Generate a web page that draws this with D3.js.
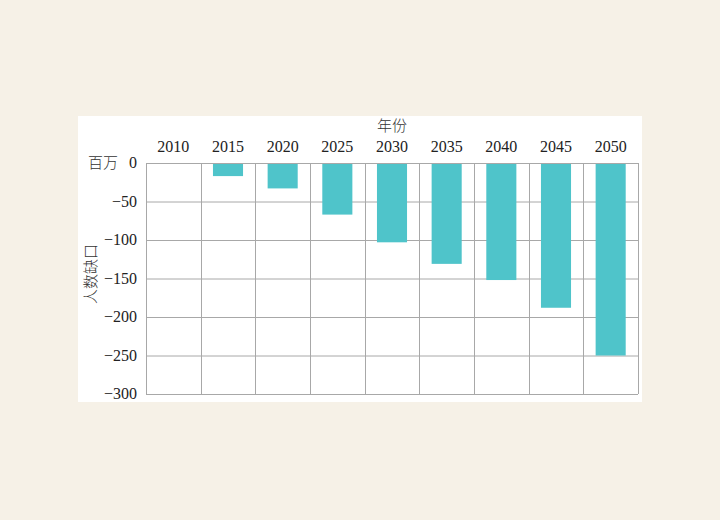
<!DOCTYPE html>
<html>
<head>
<meta charset="utf-8">
<script src="https://cdn.jsdelivr.net/npm/d3@7"></script>
<style>
  body { margin: 0; background: #f6f1e7; }
  svg { display: block; }
</style>
</head>
<body>
<script>
// data (millions)
var years = ["2010", "2015", "2020", "2025", "2030", "2035", "2040", "2045", "2050"];
var gap = [0, -17, -33, -67, -103, -131, -152, -188, -250];
var yTicks = [0, -50, -100, -150, -200, -250, -300];

var W = 720, H = 520;
var margin = {top: 163, right: 82, bottom: 126, left: 146};
var width = W - margin.left - margin.right;
var height = H - margin.top - margin.bottom;

var svg = d3.select("body").append("svg")
    .attr("width", W)
    .attr("height", H);

// white panel
svg.append("rect")
    .attr("x", 78).attr("y", 116)
    .attr("width", 564).attr("height", 286)
    .attr("fill", "#ffffff");

var g = svg.append("g")
    .attr("transform", "translate(" + margin.left + "," + margin.top + ")");

var x = d3.scaleBand().domain(years).range([0, width]).paddingInner(0).paddingOuter(0);
var y = d3.scaleLinear().domain([-300, 0]).range([height, 0]);

var gridColor = "#a8a8a8";

// horizontal grid
g.selectAll(".hgrid")
    .data(yTicks)
    .enter().append("line")
    .attr("class", "hgrid")
    .attr("x1", 0).attr("x2", width)
    .attr("y1", function(d) { return y(d) + 0.5; })
    .attr("y2", function(d) { return y(d) + 0.5; })
    .attr("stroke", gridColor).attr("stroke-width", 1);

// vertical grid (column boundaries)
var bounds = years.map(function(d) { return x(d); }).concat([width]);
g.selectAll(".vgrid")
    .data(bounds)
    .enter().append("line")
    .attr("class", "vgrid")
    .attr("x1", function(d) { return Math.round(d) + 0.5; })
    .attr("x2", function(d) { return Math.round(d) + 0.5; })
    .attr("y1", 0).attr("y2", height)
    .attr("stroke", gridColor).attr("stroke-width", 1);

// bars
var barW = x.bandwidth() * 0.55;
g.selectAll(".bar")
    .data(years.map(function(d, i) { return {year: d, v: gap[i]}; }))
    .enter().append("rect")
    .attr("class", "bar")
    .attr("x", function(d) { return x(d.year) + (x.bandwidth() - barW) / 2; })
    .attr("y", y(0) + 1)
    .attr("width", barW)
    .attr("height", function(d) { return Math.max(0, y(d.v) - y(0) - 1); })
    .attr("fill", "#4fc4ca");

var serif = "'Liberation Serif', 'DejaVu Serif', serif";
var cjk = "'Noto Sans CJK SC', sans-serif";

// x labels at top
g.selectAll(".xlab")
    .data(years)
    .enter().append("text")
    .attr("x", function(d) { return x(d) + x.bandwidth() / 2; })
    .attr("y", -11)
    .attr("text-anchor", "middle")
    .attr("font-family", serif)
    .attr("font-size", 16)
    .attr("fill", "#222")
    .text(function(d) { return d; });

// y labels
g.selectAll(".ylab")
    .data(yTicks)
    .enter().append("text")
    .attr("x", -9)
    .attr("y", function(d) { return y(d) + 5; })
    .attr("text-anchor", "end")
    .attr("font-family", serif)
    .attr("font-size", 16)
    .attr("fill", "#222")
    .text(function(d) { return d === 0 ? "0" : "\u2212" + Math.abs(d); });

// unit
g.append("text")
    .attr("x", -28).attr("y", y(0) + 5)
    .attr("text-anchor", "end")
    .attr("font-family", cjk)
    .attr("font-size", 15)
    .attr("font-weight", 300)
    .attr("fill", "#333")
    .text("百万");

// x title
g.append("text")
    .attr("x", x("2030") + x.bandwidth() / 2)
    .attr("y", -32)
    .attr("text-anchor", "middle")
    .attr("font-family", cjk)
    .attr("font-size", 15)
    .attr("font-weight", 300)
    .attr("fill", "#333")
    .text("年份");

// y title
svg.append("text")
    .attr("transform", "translate(96,274) rotate(-90)")
    .attr("text-anchor", "middle")
    .attr("font-family", cjk)
    .attr("font-size", 15)
    .attr("font-weight", 300)
    .attr("fill", "#333")
    .text("人数缺口");
</script>
</body>
</html>
